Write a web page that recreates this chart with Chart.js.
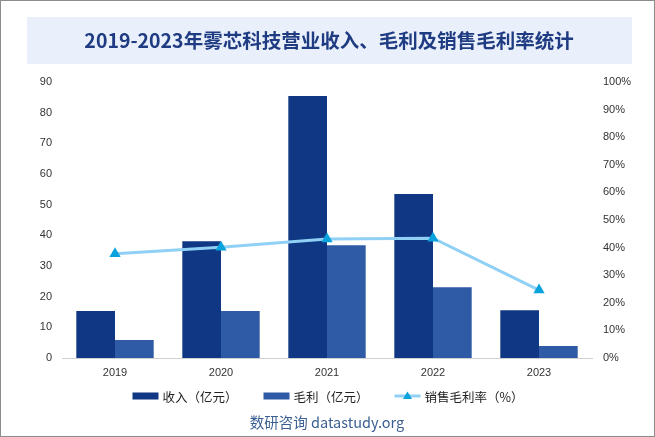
<!DOCTYPE html>
<html>
<head>
<meta charset="utf-8">
<script src="https://cdn.jsdelivr.net/npm/chart.js@4.4.1/dist/chart.umd.min.js"></script>
<style>
  html, body { margin: 0; padding: 0; background: #fff; }
  #wrap { width: 655px; height: 437px; position: relative; }
</style>
</head>
<body>
<div id="wrap"><canvas id="c" width="655" height="437"></canvas></div>
<script>
// 데이터
const years = ['2019', '2020', '2021', '2022', '2023'];
const revenue = [15.3, 38.1, 85.4, 53.5, 15.6];     // 收入（亿元）
const grossProfit = [5.9, 15.3, 36.8, 23.1, 3.9];   // 毛利（亿元）
const grossMargin = [37.8, 40.1, 43.1, 43.4, 24.6]; // 销售毛利率（%）
const leftTicks = [0, 90, 10];   // min, max, step
const rightTicks = [0, 100, 10];

const titleText = '2019-2023年雾芯科技营业收入、毛利及销售毛利率统计';
const sourceText = '数研咨询 datastudy.org';

const tickFont = { family: 'Liberation Sans, Arial, sans-serif', size: 11 };
const cjkFont = '"Noto Sans CJK SC", sans-serif';

// 제목, 범례, 출처, 테두리 그리기
const decor = {
    id: 'decor',
    beforeDraw(chart) {
        const ctx = chart.ctx;
        ctx.save();
        ctx.fillStyle = '#ffffff';
        ctx.fillRect(0, 0, 655, 437);
        ctx.fillStyle = '#e9f0fb';
        ctx.fillRect(27, 17, 605, 47);
        ctx.fillStyle = '#1f3b82';
        ctx.font = 'bold 19.5px ' + cjkFont;
        ctx.textAlign = 'center';
        ctx.textBaseline = 'middle';
        ctx.fillText(titleText, 329, 41);
        ctx.restore();
    },
    afterDraw(chart) {
        const ctx = chart.ctx;
        ctx.save();
        // 범례
        ctx.font = '12.5px ' + cjkFont;
        ctx.textBaseline = 'middle';
        ctx.textAlign = 'left';
        const ds = chart.data.datasets;
        const sym = 26, gap = 4, itemGap = 26;
        const widths = ds.map(d => sym + gap + ctx.measureText(d.label).width);
        const total = widths.reduce((a, b) => a + b, 0) + itemGap * (ds.length - 1);
        let x = 328 - total / 2;
        const y = 396;
        ds.forEach((d, i) => {
            if (d.type === 'line') {
                ctx.strokeStyle = d.borderColor;
                ctx.lineWidth = 3;
                ctx.beginPath();
                ctx.moveTo(x, y);
                ctx.lineTo(x + sym, y);
                ctx.stroke();
                ctx.fillStyle = d.pointBackgroundColor;
                ctx.beginPath();
                ctx.moveTo(x + sym / 2, y - 4.5);
                ctx.lineTo(x + sym / 2 + 4.5, y + 3);
                ctx.lineTo(x + sym / 2 - 4.5, y + 3);
                ctx.closePath();
                ctx.fill();
            } else {
                ctx.fillStyle = d.backgroundColor;
                ctx.fillRect(x, y - 3.5, sym, 7);
            }
            ctx.fillStyle = '#222';
            ctx.fillText(d.label, x + sym + gap, y + 1);
            x += widths[i] + itemGap;
        });
        // 출처
        ctx.font = '14.5px ' + cjkFont;
        ctx.fillStyle = '#3b5f92';
        ctx.textAlign = 'center';
        ctx.fillText(sourceText, 327, 422);
        // 테두리
        ctx.strokeStyle = '#8c8c8c';
        ctx.lineWidth = 1;
        ctx.strokeRect(0.5, 0.5, 654, 436);
        ctx.restore();
    }
};

new Chart(document.getElementById('c'), {
    data: {
        labels: years,
        datasets: [
            {
                type: 'bar',
                label: '收入（亿元）',
                data: revenue,
                backgroundColor: '#0f3784',
                yAxisID: 'y',
                order: 2,
                categoryPercentage: 0.73,
                barPercentage: 1
            },
            {
                type: 'bar',
                label: '毛利（亿元）',
                data: grossProfit,
                backgroundColor: '#2f5aa6',
                yAxisID: 'y',
                order: 3,
                categoryPercentage: 0.73,
                barPercentage: 1
            },
            {
                type: 'line',
                label: '销售毛利率（%）',
                data: grossMargin,
                borderColor: '#8fd0f4',
                borderWidth: 3,
                pointStyle: 'triangle',
                pointRadius: 6.5,
                pointBackgroundColor: '#0aa2dc',
                pointBorderColor: '#0aa2dc',
                pointBorderWidth: 0,
                yAxisID: 'y1',
                order: 0,
                tension: 0
            }
        ]
    },
    options: {
        responsive: false,
        animation: false,
        layout: { padding: { top: 82, bottom: 49, left: 0, right: 0 } },
        plugins: {
            legend: { display: false },
            tooltip: { enabled: false }
        },
        scales: {
            x: {
                grid: { display: false, drawTicks: false },
                border: { display: true, color: '#d0d0d0', width: 1 },
                ticks: { color: '#333', font: tickFont, padding: 8 },
                afterFit: s => { s.height = 30; }
            },
            y: {
                position: 'left',
                min: leftTicks[0], max: leftTicks[1],
                grid: { display: false, drawTicks: false },
                border: { display: false },
                ticks: { stepSize: leftTicks[2], color: '#333', font: tickFont, padding: 10 },
                afterFit: s => { s.width = 62; }
            },
            y1: {
                position: 'right',
                min: rightTicks[0], max: rightTicks[1],
                grid: { display: false, drawTicks: false },
                border: { display: false },
                ticks: { stepSize: rightTicks[2], color: '#333', font: tickFont, padding: 11,
                         callback: v => v + '%' },
                afterFit: s => { s.width = 63; }
            }
        }
    },
    plugins: [decor]
});
</script>
</body>
</html>
